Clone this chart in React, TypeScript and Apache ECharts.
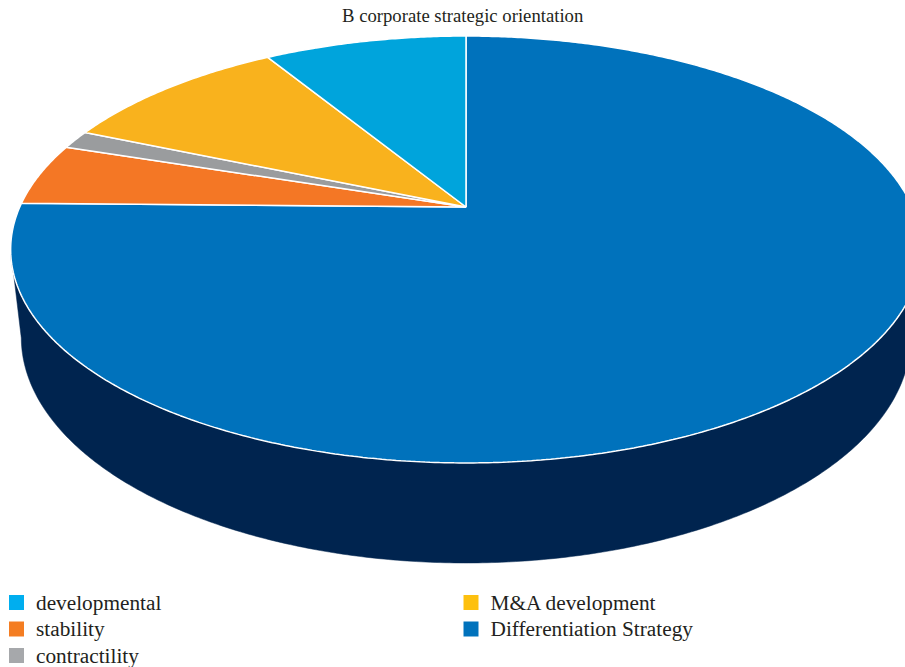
import React, { useEffect, useRef } from "react";
import * as echarts from "echarts";

// Slices in drawing order, clockwise from 12 o'clock
const sliceNames = [
  "Differentiation Strategy",
  "stability",
  "contractility",
  "M&A development",
  "developmental",
];
const sliceValues = [75.3, 4.7, 1.4, 9.9, 8.7];

const legendLeftNames = ["developmental", "stability", "contractility"];
const legendRightNames = ["M&A development", "Differentiation Strategy"];
const titleText = "B corporate strategic orientation";

const faceColors: Record<string, string> = {
  "Differentiation Strategy": "#0072BC",
  stability: "#F47725",
  contractility: "#9A9C9E",
  "M&A development": "#F9B21D",
  developmental: "#00A4DC",
};
const legendColors: Record<string, string> = {
  "Differentiation Strategy": "#0072BC",
  stability: "#F47D22",
  contractility: "#A6A8AB",
  "M&A development": "#FDC00F",
  developmental: "#00AEEF",
};
const wallColor = "#00244F";
const textColor = "#231F20";
const fontFamily = "Liberation Serif";

// perspective projection of the cylinder
const CX = 466;
const CY = 207;
const F = 1991.5;
const D = 4.463;
const SN = 0.4594;
const CS = 0.8882;
const H = 0.2228;
const WALL_FROM = 101.4;
const WALL_TO = 258.6;

function project(u: number, v: number, y: number): number[] {
  const yc = y * CS - v * SN;
  const zc = y * SN + v * CS;
  const dist = D - zc;
  return [CX + (F * u) / dist, CY - (F * yc) / dist];
}

function arcPoints(a0: number, a1: number, y: number): number[][] {
  const n = Math.max(2, Math.ceil(Math.abs(a1 - a0) / 0.5));
  const pts: number[][] = [];
  for (let k = 0; k <= n; k++) {
    const t = ((a0 + ((a1 - a0) * k) / n) * Math.PI) / 180;
    pts.push(project(Math.sin(t), -Math.cos(t), y));
  }
  return pts;
}

export default function App() {
  const ref = useRef<HTMLDivElement>(null);
  useEffect(() => {
    if (!ref.current) return;
    const chart = echarts.init(ref.current, undefined, { renderer: "svg" });
    const total = sliceValues.reduce((a, b) => a + b, 0);

    const series = sliceNames.map((name, i) => {
      const before = sliceValues.slice(0, i).reduce((a, b) => a + b, 0);
      return {
        type: "custom",
        name,
        coordinateSystem: "none",
        data: [[sliceValues[i]]],
        itemStyle: { color: legendColors[name] },
        silent: true,
        renderItem: (_params: any, api: any) => {
          const val = api.value(0);
          const a0 = (before / total) * 360;
          const a1 = ((before + val) / total) * 360;
          const children: any[] = [];
          const w0 = Math.max(a0, WALL_FROM);
          const w1 = Math.min(a1, WALL_TO);
          if (w1 > w0) {
            const pts = arcPoints(w0, w1, 0).concat(arcPoints(w1, w0, -H));
            children.push({
              type: "polygon",
              z2: 1,
              shape: { points: pts },
              style: { fill: wallColor, stroke: wallColor, lineWidth: 0.5 },
            });
          }
          const top = [project(0, 0, 0)].concat(arcPoints(a0, a1, 0));
          children.push({
            type: "polygon",
            z2: 10,
            shape: { points: top },
            style: {
              fill: faceColors[name],
              stroke: "#FFFFFF",
              lineWidth: 1.5,
              lineJoin: "bevel",
            },
          });
          return { type: "group", children };
        },
      };
    });

    const legendText = {
      fontFamily,
      fontSize: 21.3,
      lineHeight: 21,
      color: textColor,
      padding: [0, 0, 0, 7],
    };

    const legendBase = {
      orient: "vertical",
      top: 592,
      padding: 0,
      itemWidth: 15,
      itemHeight: 15,
      itemGap: 5.5,
      icon: "rect",
      selectedMode: false,
      textStyle: legendText,
    };

    chart.setOption({
      animation: false,
      backgroundColor: "#FFFFFF",
      title: {
        text: titleText,
        left: 342,
        top: 6,
        padding: 0,
        textStyle: {
          fontFamily,
          fontSize: 18.7,
          fontWeight: "normal",
          color: textColor,
          lineHeight: 19,
        },
      },
      legend: [
        {
          ...legendBase,
          left: 9,
          data: legendLeftNames.map((n) => ({
            name: n,
            itemStyle: { color: legendColors[n] },
          })),
        },
        {
          ...legendBase,
          left: 463.5,
          data: legendRightNames.map((n) => ({
            name: n,
            itemStyle: { color: legendColors[n] },
          })),
        },
      ],
      series,
    } as any);
    return () => chart.dispose();
  }, []);
  return (
    <div
      ref={ref}
      style={{ position: "absolute", left: 0, top: 0, width: 905, height: 667 }}
    />
  );
}
